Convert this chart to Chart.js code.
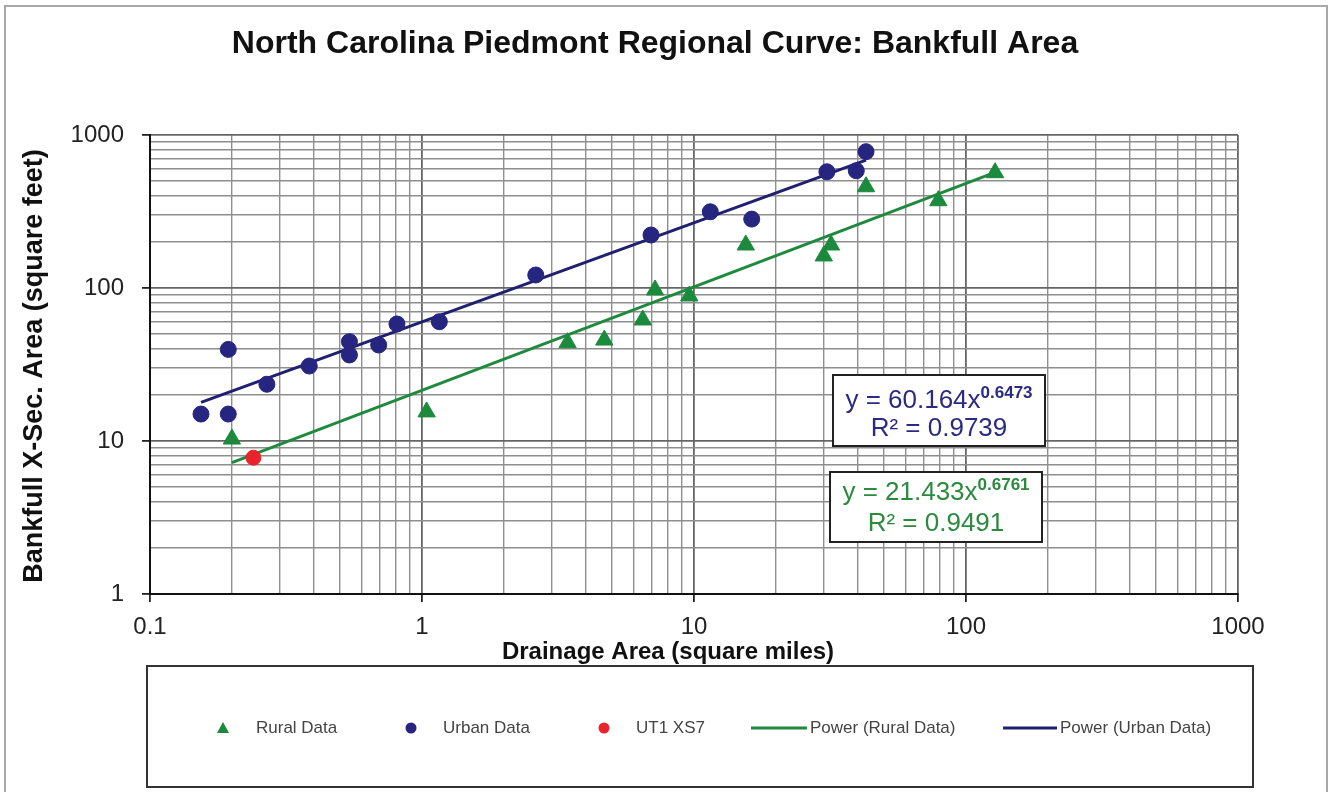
<!DOCTYPE html>
<html><head><meta charset="utf-8">
<script src="https://cdn.jsdelivr.net/npm/chart.js@4.4.1/dist/chart.umd.min.js"></script>
<style>html,body{margin:0;padding:0;background:#fff;} canvas{display:block;}</style>
</head><body>
<canvas id="c" width="1329" height="792"></canvas>
<script>
// ---- texts ----
const chartTitle = 'North Carolina Piedmont Regional Curve: Bankfull Area';
const xTitle = 'Drainage Area (square miles)';
const yTitle = 'Bankfull X-Sec. Area (square feet)';
const seriesNames = ['Rural Data', 'Urban Data', 'UT1 XS7', 'Power (Rural Data)', 'Power (Urban Data)'];

// ---- tick labels ----
const xTickLabels = [0.1, 1, 10, 100, 1000];
const yTickLabels = [1, 10, 100, 1000];
const minorSteps = [2, 3, 4, 5, 6, 7, 8, 9];

// ---- data ----
const ruralX = [0.200, 1.04, 3.43, 4.68, 6.48, 7.19, 9.61, 15.5, 30.0, 31.9, 42.9, 79.1, 127.9];
const ruralY = [10.3, 15.5, 43.9, 45.7, 61.8, 97, 88.7, 191, 162, 191, 459, 372, 567];
const urbanX = [0.154, 0.194, 0.194, 0.269, 0.385, 0.541, 0.541, 0.693, 0.809, 1.158, 2.62, 6.95, 11.48, 16.3, 30.8, 39.5, 42.9];
const urbanY = [15.0, 15.0, 39.7, 23.5, 30.9, 44.6, 36.5, 42.4, 58.2, 60.2, 121.6, 222, 315, 282, 575, 584, 778];
const utX = [0.240];
const utY = [7.78];
const ruralFitX = [0.2, 127.9];
const ruralFitY = [7.22, 570];
const urbanFitX = [0.154, 42.9];
const urbanFitY = [17.9, 686];

// ---- equations ----
const urbanEq = ['y = 60.164x', '0.6473', 'R\u00b2 = 0.9739'];
const ruralEq = ['y = 21.433x', '0.6761', 'R\u00b2 = 0.9491'];

// ---- styles ----
const C_RURAL = '#1c8a3c';
const C_URBAN = '#262680';
const C_UT = '#e8232b';
const C_RFIT = '#1f8a3f';
const C_UFIT = '#202070';
const FONT = '"Liberation Sans", Arial, sans-serif';

function pts(xs, ys) { return xs.map((x, i) => ({x: x, y: ys[i]})); }
function isPow10(v) { const l = Math.log10(v); return Math.abs(l - Math.round(l)) < 1e-9; }
function gridValues(majors) {
  const out = [];
  majors.forEach((d, i) => {
    out.push(d);
    if (i < majors.length - 1) minorSteps.forEach(m => out.push(Number((d * m).toPrecision(6))));
  });
  return out;
}
const xGrid = gridValues(xTickLabels);
const yGrid = gridValues(yTickLabels);

const gridOpts = {
  color: ctx => (ctx.tick && isPow10(ctx.tick.value)) ? '#666' : '#8e8e8e',
  lineWidth: ctx => (ctx.tick && isPow10(ctx.tick.value)) ? 1.8 : 1.4,
  tickColor: ctx => (ctx.tick && isPow10(ctx.tick.value)) ? '#222' : 'rgba(0,0,0,0)',
  tickLength: 8,
  drawTicks: true
};

const decor = {
  id: 'decor',
  beforeDraw(chart) {
    const ctx = chart.ctx;
    ctx.save(); ctx.fillStyle = '#fff'; ctx.fillRect(0, 0, chart.width, chart.height); ctx.restore();
  },
  afterDraw(chart) {
    const ctx = chart.ctx;
    ctx.save();
    // outer frame
    ctx.strokeStyle = '#a8a8a8'; ctx.lineWidth = 2;
    ctx.strokeRect(5, 6, 1322, 792);
    // title
    ctx.fillStyle = '#111'; ctx.textAlign = 'center'; ctx.textBaseline = 'alphabetic';
    ctx.font = 'bold 32px ' + FONT;
    ctx.fillText(chartTitle, 655, 53);
    // x title
    ctx.font = 'bold 24px ' + FONT;
    ctx.fillText(xTitle, 668, 659);
    // y title
    ctx.save(); ctx.translate(42, 366); ctx.rotate(-Math.PI / 2);
    ctx.font = 'bold 27px ' + FONT;
    ctx.fillText(yTitle, 0, 0);
    ctx.restore();

    // equation boxes
    function eqBox(x, y, w, h, eq, color, b1, b2) {
      ctx.fillStyle = '#fff'; ctx.fillRect(x, y, w, h);
      ctx.strokeStyle = '#222'; ctx.lineWidth = 2; ctx.strokeRect(x, y, w, h);
      const cx = x + w / 2;
      ctx.fillStyle = color; ctx.textAlign = 'left';
      ctx.font = '26px ' + FONT; const w1 = ctx.measureText(eq[0]).width;
      ctx.font = 'bold 17px ' + FONT; const w2 = ctx.measureText(eq[1]).width;
      const sx = cx - (w1 + w2) / 2;
      ctx.font = '26px ' + FONT; ctx.fillText(eq[0], sx, b1);
      ctx.font = 'bold 17px ' + FONT; ctx.fillText(eq[1], sx + w1, b1 - 10);
      ctx.textAlign = 'center'; ctx.font = '26px ' + FONT;
      ctx.fillText(eq[2], cx, b2);
    }
    eqBox(833, 375, 212, 71, urbanEq, '#2a2a82', 408, 436);
    eqBox(830, 472, 212, 70, ruralEq, '#2b8a3e', 500, 531);

    // legend
    ctx.fillStyle = '#fff'; ctx.fillRect(147, 666, 1106, 121);
    ctx.strokeStyle = '#333'; ctx.lineWidth = 2; ctx.strokeRect(147, 666, 1106, 121);
    const ly = 728;
    ctx.font = '17px ' + FONT; ctx.fillStyle = '#444'; ctx.textAlign = 'left'; ctx.textBaseline = 'middle';
    // rural triangle
    ctx.fillStyle = C_RURAL; ctx.beginPath();
    ctx.moveTo(223, ly - 6); ctx.lineTo(229, ly + 5); ctx.lineTo(217, ly + 5); ctx.closePath(); ctx.fill();
    ctx.fillStyle = '#444'; ctx.fillText(seriesNames[0], 256, ly);
    // urban circle
    ctx.fillStyle = C_URBAN; ctx.beginPath(); ctx.arc(411, ly, 5.5, 0, Math.PI * 2); ctx.fill();
    ctx.fillStyle = '#444'; ctx.fillText(seriesNames[1], 443, ly);
    // ut circle
    ctx.fillStyle = C_UT; ctx.beginPath(); ctx.arc(604, ly, 5.5, 0, Math.PI * 2); ctx.fill();
    ctx.fillStyle = '#444'; ctx.fillText(seriesNames[2], 636, ly);
    // rural fit
    ctx.strokeStyle = C_RFIT; ctx.lineWidth = 3; ctx.beginPath(); ctx.moveTo(751, ly); ctx.lineTo(807, ly); ctx.stroke();
    ctx.fillText(seriesNames[3], 810, ly);
    // urban fit
    ctx.strokeStyle = C_UFIT; ctx.lineWidth = 3; ctx.beginPath(); ctx.moveTo(1003, ly); ctx.lineTo(1057, ly); ctx.stroke();
    ctx.fillText(seriesNames[4], 1060, ly);
    ctx.restore();
  }
};

new Chart(document.getElementById('c'), {
  type: 'scatter',
  data: {
    datasets: [
      { label: seriesNames[0], data: pts(ruralX, ruralY), pointStyle: 'triangle', pointRadius: 10,
        backgroundColor: C_RURAL, borderColor: C_RURAL, borderWidth: 1, order: 1 },
      { label: seriesNames[1], data: pts(urbanX, urbanY), pointStyle: 'circle', pointRadius: 8,
        backgroundColor: C_URBAN, borderColor: C_URBAN, borderWidth: 1, order: 1 },
      { label: seriesNames[2], data: pts(utX, utY), pointStyle: 'circle', pointRadius: 7.5,
        backgroundColor: C_UT, borderColor: C_UT, borderWidth: 1, order: 0 },
      { label: seriesNames[3], data: pts(ruralFitX, ruralFitY), showLine: true, pointRadius: 0,
        borderColor: C_RFIT, borderWidth: 3, fill: false, order: 5 },
      { label: seriesNames[4], data: pts(urbanFitX, urbanFitY), showLine: true, pointRadius: 0,
        borderColor: C_UFIT, borderWidth: 3, fill: false, order: 5 }
    ]
  },
  options: {
    responsive: false, animation: false, devicePixelRatio: 1,
    layout: { padding: { left: 0, right: 91, top: 135, bottom: 0 } },
    plugins: { legend: { display: false }, title: { display: false }, tooltip: { enabled: false } },
    scales: {
      x: {
        type: 'logarithmic', min: 0.1, max: 1000,
        afterBuildTicks: s => { s.ticks = xGrid.map(v => ({ value: v })); },
        afterFit: s => { s.height = 198; },
        grid: gridOpts,
        border: { display: true, color: '#111', width: 2 },
        ticks: { autoSkip: false, maxRotation: 0, padding: 11, color: '#222',
          font: { family: FONT, size: 24 },
          callback: v => xTickLabels.includes(v) ? String(v) : '' }
      },
      y: {
        type: 'logarithmic', min: 1, max: 1000,
        afterBuildTicks: s => { s.ticks = yGrid.map(v => ({ value: v })); },
        afterFit: s => { s.width = 150; },
        grid: gridOpts,
        border: { display: true, color: '#111', width: 2 },
        ticks: { autoSkip: false, padding: 18, color: '#222',
          font: { family: FONT, size: 24 },
          callback: v => yTickLabels.includes(v) ? String(v) : '' }
      }
    }
  },
  plugins: [decor]
});
</script>
</body></html>
